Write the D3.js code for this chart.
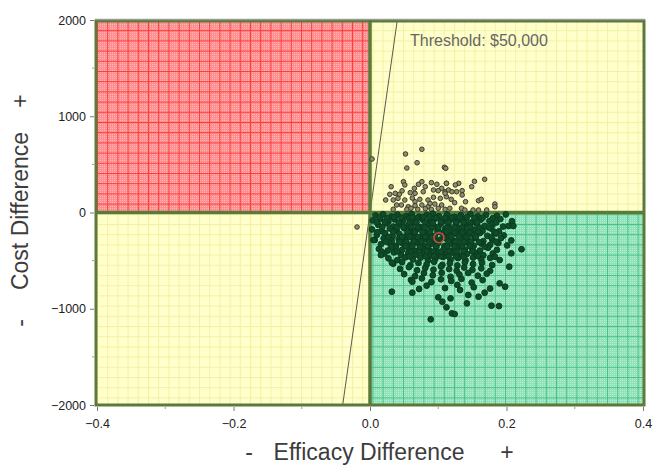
<!DOCTYPE html>
<html>
<head>
<meta charset="utf-8">
<script src="https://cdn.jsdelivr.net/npm/d3@7"></script>
<style>
  html, body { margin: 0; padding: 0; background: #fff; }
  svg { display: block; font-family: "Liberation Sans", Arial, sans-serif; }
</style>
</head>
<body>
<div id="chart"></div>
<script>
const xTicks = [-0.4, -0.2, 0, 0.2, 0.4];
const yTicks = [-2000, -1000, 0, 1000, 2000];
const threshold = 50000;
const meanPoint = [0.101, -262];

// simulation results above zero cost (yellow quadrant)
const upperPoints = [
  [0.003, 556], [0.052, 608], [0.076, 657], [0.069, 517], [0.054, 462], [0.109, 470],
  [0.031, 268], [0.049, 320], [0.051, 286], [0.071, 293], [0.076, 320], [0.065, 251],
  [0.081, 268], [0.090, 310], [0.098, 293], [0.112, 303], [0.105, 251],
  [0.029, 189], [0.037, 199], [0.043, 189], [0.059, 206], [0.066, 199], [0.078, 216],
  [0.093, 234], [0.100, 227], [0.110, 216],
  [0.023, 130], [0.034, 130], [0.041, 147], [0.051, 130], [0.066, 112], [0.073, 137],
  [0.085, 130], [0.093, 158], [0.103, 147], [0.112, 164],
  [0.039, 78], [0.046, 78], [0.056, 60], [0.066, 71], [0.076, 78], [0.085, 60],
  [0.095, 88], [0.105, 78],
  [0.034, 33], [0.054, 33], [0.060, 44], [0.070, 33], [0.081, 40], [0.090, 33],
  [0.100, 44], [0.110, 33],
  [0.111, 459], [0.130, 303], [0.125, 286], [0.153, 324], [0.149, 268], [0.168, 345],
  [0.112, 303], [0.115, 234], [0.120, 216], [0.127, 216], [0.135, 227], [0.135, 182],
  [0.119, 137], [0.124, 102], [0.140, 112], [0.159, 123], [0.163, 137], [0.183, 88],
  [0.183, 60], [0.117, 44], [0.134, 44], [0.139, 26], [0.151, 26], [0.159, 26],
  [0.171, 26], [0.110, 199], [0.088, 95], [0.062, 150], [0.047, 225]
];

// simulation results below zero cost
const lowerPoints = [
  [0.008, -30], [0.019, -18], [0.031, -42], [0.040, -22], [0.053, -36], [0.061, -15],
  [0.072, -44], [0.083, -25], [0.092, -12], [0.101, -38], [0.113, -20], [0.124, -46],
  [0.133, -28], [0.147, -16], [0.158, -40], [0.170, -24], [0.186, -34], [0.199, -20],
  [0.004, -82], [0.015, -66], [0.027, -95], [0.036, -72], [0.048, -88], [0.057, -60],
  [0.067, -98], [0.077, -74], [0.088, -86], [0.096, -62], [0.107, -92], [0.119, -70],
  [0.129, -84], [0.139, -64], [0.151, -96], [0.162, -76], [0.175, -88], [0.191, -68],
  [0.208, -90],
  [0.012, -128], [0.024, -112], [0.034, -146], [0.045, -120], [0.055, -138], [0.064, -110],
  [0.074, -150], [0.085, -124], [0.094, -142], [0.104, -115], [0.115, -136], [0.126, -118],
  [0.137, -148], [0.145, -126], [0.156, -112], [0.168, -140], [0.180, -120], [0.195, -146],
  [0.003, -176], [0.017, -192], [0.029, -166], [0.039, -184], [0.050, -162], [0.060, -198],
  [0.069, -172], [0.080, -188], [0.090, -160], [0.099, -194], [0.110, -170], [0.121, -186],
  [0.131, -164], [0.142, -198], [0.153, -178], [0.165, -190], [0.178, -168], [0.189, -196],
  [0.203, -140],
  [0.010, -232], [0.022, -214], [0.033, -246], [0.043, -222], [0.054, -240], [0.065, -210],
  [0.076, -250], [0.086, -226], [0.095, -244], [0.106, -212], [0.116, -236], [0.127, -220],
  [0.138, -248], [0.149, -228], [0.161, -214], [0.172, -242], [0.185, -216], [0.196, -238],
  [0.007, -286], [0.020, -268], [0.032, -298], [0.042, -274], [0.052, -290], [0.062, -262],
  [0.073, -300], [0.082, -278], [0.093, -292], [0.103, -282], [0.112, -270], [0.123, -296],
  [0.133, -276], [0.144, -288], [0.154, -264], [0.166, -298], [0.179, -280], [0.192, -266],
  [0.207, -290],
  [0.016, -330], [0.028, -314], [0.038, -348], [0.048, -322], [0.058, -340], [0.068, -312],
  [0.079, -344], [0.089, -326], [0.100, -316], [0.109, -348], [0.120, -324], [0.130, -338],
  [0.141, -310], [0.152, -346], [0.163, -322], [0.176, -336], [0.188, -318], [0.201, -342],
  [0.013, -378], [0.026, -396], [0.037, -364], [0.047, -388], [0.057, -370], [0.066, -400],
  [0.077, -376], [0.087, -392], [0.097, -362], [0.108, -384], [0.118, -398], [0.128, -368],
  [0.139, -390], [0.150, -374], [0.161, -396], [0.173, -366], [0.186, -388],
  [0.021, -428], [0.035, -414], [0.046, -446], [0.056, -420], [0.067, -438], [0.078, -412],
  [0.088, -450], [0.099, -424], [0.110, -440], [0.121, -416], [0.131, -448], [0.142, -430],
  [0.154, -418], [0.166, -444], [0.180, -426],
  [0.027, -476], [0.040, -494], [0.052, -466], [0.063, -488], [0.074, -470], [0.085, -498],
  [0.096, -478], [0.107, -462], [0.118, -492], [0.129, -474], [0.140, -496], [0.151, -468],
  [0.163, -486], [0.176, -472], [0.190, -494],
  [0.034, -532], [0.047, -516], [0.059, -548], [0.071, -524], [0.083, -540], [0.094, -512],
  [0.106, -544], [0.117, -528], [0.128, -550], [0.139, -518], [0.151, -536], [0.164, -522],
  [0.179, -546],
  [0.044, -586], [0.057, -568], [0.069, -600], [0.081, -576], [0.093, -594], [0.104, -562],
  [0.116, -588], [0.127, -604], [0.138, -572], [0.150, -596], [0.163, -580], [0.176, -606],
  [0.050, -640], [0.066, -662], [0.079, -630], [0.092, -652], [0.105, -626], [0.118, -668],
  [0.131, -644], [0.144, -628], [0.158, -656], [0.171, -636],
  [0.060, -700], [0.076, -684], [0.090, -722], [0.104, -694], [0.119, -712], [0.134, -690],
  [0.149, -728], [0.165, -702],
  [0.083, -760], [0.110, -785], [0.128, -752], [0.152, -776], [0.176, -790], [0.072, -795],
  [0.046, -52], [0.069, -58], [0.087, -48], [0.110, -55], [0.131, -50], [0.153, -56],
  [0.058, -104], [0.081, -102], [0.104, -100], [0.126, -104], [0.147, -106],
  [0.049, -154], [0.070, -156], [0.091, -152], [0.113, -158], [0.135, -154], [0.160, -158],
  [0.055, -204], [0.077, -206], [0.101, -202], [0.124, -206], [0.146, -204],
  [0.047, -254], [0.070, -256], [0.090, -258], [0.119, -254], [0.141, -258],
  [0.053, -306], [0.075, -304], [0.097, -302], [0.125, -306], [0.148, -302],
  [0.062, -354], [0.085, -356], [0.113, -352], [0.135, -356],
  [0.072, -404], [0.093, -406], [0.116, -404], [0.137, -402],
  [0.082, -456], [0.104, -454], [0.126, -458],
  [0.014, -50], [0.025, -55], [0.035, -48], [0.062, -52], [0.078, -50], [0.097, -54],
  [0.120, -52], [0.142, -48], [0.165, -54], [0.180, -58],
  [0.010, -102], [0.022, -100], [0.042, -106], [0.068, -104], [0.092, -108], [0.115, -102],
  [0.137, -100], [0.157, -104], [0.185, -104],
  [0.018, -150], [0.039, -152], [0.060, -150], [0.080, -154], [0.100, -156], [0.124, -152],
  [0.147, -150], [0.174, -156],
  [0.011, -204], [0.034, -200], [0.066, -206], [0.088, -202], [0.112, -200], [0.135, -204],
  [0.158, -200], [0.182, -204],
  [0.027, -254], [0.058, -252], [0.081, -254], [0.108, -256], [0.130, -250], [0.155, -254],
  [0.178, -258],
  [0.023, -302], [0.043, -306], [0.064, -300], [0.087, -306], [0.115, -302], [0.138, -304],
  [0.160, -308], [0.185, -304],
  [0.031, -356], [0.052, -350], [0.073, -358], [0.097, -350], [0.124, -354], [0.146, -350],
  [0.168, -354],
  [0.040, -404], [0.060, -408], [0.083, -402], [0.104, -408], [0.127, -406], [0.150, -404],
  [0.058, -456], [0.094, -452], [0.115, -456], [0.137, -460], [0.158, -452],
  // scattered tail
  [0.005, -286], [0.017, -407], [0.016, -442], [0.032, -521], [0.032, -823], [0.062, -833],
  [0.062, -719], [0.089, -1110], [0.100, -881], [0.106, -927], [0.118, -892], [0.112, -985],
  [0.120, -1048], [0.124, -1055], [0.132, -805], [0.144, -857], [0.142, -944], [0.159, -875],
  [0.168, -833], [0.178, -968], [0.189, -972], [0.198, -771], [0.190, -736], [0.204, -563],
  [0.222, -382], [0.210, -140], [0.207, -424], [0.185, -216], [0.183, -459],
  [-0.019, -151]
];

const quadrants = [
  { key: 'red', x0: -0.4, x1: 0, y0: 0, y1: 2000 },
  { key: 'yellow', x0: 0, x1: 0.4, y0: 0, y1: 2000 },
  { key: 'yellow', x0: -0.4, x1: 0, y0: -2000, y1: 0 },
  { key: 'green', x0: 0, x1: 0.4, y0: -2000, y1: 0 }
];

const palette = {
  red: { base: '#ff8f8f', line: '#ff3a3a' },
  yellow: { base: '#ffffc6', line: '#f3f0a6' },
  green: { base: '#92e2b9', line: '#45c285' }
};

const width = 657;
const height = 473;
const plot = { left: 97, right: 643, top: 20, bottom: 405 };
const border = '#5b7a3a';
const font = '"Liberation Sans", Arial, sans-serif';

const svg = d3.select('#chart')
  .append('svg')
    .attr('width', width)
    .attr('height', height)
    .attr('viewBox', `0 0 ${width} ${height}`);

const x = d3.scaleLinear().domain([-0.4, 0.4]).range([plot.left, plot.right]);
const y = d3.scaleLinear().domain([-2000, 2000]).range([plot.bottom, plot.top]);

// patterns: fine checker + 10px grid
const defs = svg.append('defs');
defs.append('pattern')
  .attr('id', 'checker')
  .attr('patternUnits', 'userSpaceOnUse')
  .attr('width', 2).attr('height', 2)
  .append('rect')
    .attr('width', 1).attr('height', 1)
    .attr('fill', '#fff').attr('fill-opacity', 0.35);

Object.keys(palette).forEach(k => {
  const p = defs.append('pattern')
    .attr('id', `grid-${k}`)
    .attr('patternUnits', 'userSpaceOnUse')
    .attr('x', plot.left).attr('y', plot.top)
    .attr('width', 10.2).attr('height', 10.2);
  p.append('rect').attr('width', 10.2).attr('height', 1).attr('fill', palette[k].line);
  p.append('rect').attr('width', 1).attr('height', 10.2).attr('fill', palette[k].line);
});

// quadrants
const quad = svg.append('g').attr('class', 'quadrants')
  .selectAll('g')
  .data(quadrants)
  .join('g');

['base', 'checker', 'grid'].forEach(layer => {
  quad.append('rect')
    .attr('x', d => x(d.x0))
    .attr('y', d => y(d.y1))
    .attr('width', d => x(d.x1) - x(d.x0))
    .attr('height', d => y(d.y0) - y(d.y1))
    .attr('fill', d => {
      if (layer === 'base') return palette[d.key].base;
      if (layer === 'checker') return 'url(#checker)';
      return `url(#grid-${d.key})`;
    });
});

// threshold line
svg.append('line')
  .attr('x1', x(-2000 / threshold)).attr('y1', y(-2000))
  .attr('x2', x(2000 / threshold)).attr('y2', y(2000))
  .attr('stroke', '#5a5a50')
  .attr('stroke-width', 1);

svg.append('text')
  .attr('x', 410).attr('y', 46)
  .attr('font-size', 16)
  .attr('fill', '#666')
  .text('Threshold: $50,000');

// borders
svg.append('rect')
  .attr('x', plot.left - 1).attr('y', plot.top + 1)
  .attr('width', plot.right - plot.left + 2).attr('height', plot.bottom - plot.top - 1)
  .attr('fill', 'none')
  .attr('stroke', border)
  .attr('stroke-width', 3);
svg.append('line')
  .attr('x1', plot.left - 2).attr('x2', plot.right + 2)
  .attr('y1', plot.top - 0.5).attr('y2', plot.top - 0.5)
  .attr('stroke', '#9a9a9a').attr('stroke-width', 1.5);
svg.append('line')
  .attr('x1', x(0)).attr('x2', x(0))
  .attr('y1', plot.top).attr('y2', plot.bottom)
  .attr('stroke', border).attr('stroke-width', 3.5);
svg.append('line')
  .attr('x1', plot.left).attr('x2', plot.right)
  .attr('y1', y(0)).attr('y2', y(0))
  .attr('stroke', border).attr('stroke-width', 3.5);

// axes
const axisY = d3.axisLeft(y).tickValues(yTicks).tickSize(4).tickPadding(4)
  .tickFormat(d3.format('d'));
const axisX = d3.axisBottom(x).tickValues(xTicks).tickSize(4).tickPadding(8)
  .tickFormat(d3.format('.1f'));

const gy = svg.append('g')
  .attr('transform', `translate(${plot.left - 3},0)`)
  .call(axisY);
const gx = svg.append('g')
  .attr('transform', `translate(0,${plot.bottom + 2})`)
  .call(axisX);

[gx, gy].forEach(g => {
  g.select('.domain').remove();
  g.selectAll('.tick line').attr('stroke', '#777');
  g.selectAll('.tick text')
    .attr('fill', '#222')
    .style('font-size', '12.5px')
    .style('font-family', font);
});

// minor ticks
svg.append('g')
  .selectAll('line')
  .data(d3.range(-1500, 2000, 1000))
  .join('line')
    .attr('x1', plot.left - 5).attr('x2', plot.left - 3)
    .attr('y1', d => y(d)).attr('y2', d => y(d))
    .attr('stroke', '#999');
svg.append('g')
  .selectAll('line')
  .data([-0.3, -0.1, 0.1, 0.3])
  .join('line')
    .attr('x1', d => x(d)).attr('x2', d => x(d))
    .attr('y1', plot.bottom + 2).attr('y2', plot.bottom + 4)
    .attr('stroke', '#999');

// simulation points
const inGreen = d => d[1] < 0 && d[0] > 0;
const allPoints = upperPoints.concat(lowerPoints);
svg.append('g')
  .attr('class', 'points')
  .selectAll('circle')
  .data(allPoints)
  .join('circle')
    .attr('cx', d => x(d[0]))
    .attr('cy', d => y(d[1]))
    .attr('r', d => (inGreen(d) ? 2.9 : 2.3))
    .attr('fill', d => (inGreen(d) ? '#0f4b29' : '#8f8f70'))
    .attr('stroke', d => (inGreen(d) ? '#0b3b1f' : '#3a3a2c'))
    .attr('stroke-width', 1);

// mean marker
svg.append('circle')
  .attr('cx', x(meanPoint[0]))
  .attr('cy', y(meanPoint[1]))
  .attr('r', 5)
  .attr('fill', 'none')
  .attr('stroke', '#d24a3c')
  .attr('stroke-width', 1.6);

// axis titles
const titleStyle = sel => sel
  .attr('fill', '#3c3c3c')
  .attr('font-size', 23)
  .attr('font-family', font);

svg.append('g')
  .attr('transform', 'translate(28,213) rotate(-90)')
  .call(g => {
    g.append('text').attr('x', -110).attr('text-anchor', 'middle').call(titleStyle).text('-');
    g.append('text').attr('x', 2).attr('text-anchor', 'middle').call(titleStyle).text('Cost Difference');
    g.append('text').attr('x', 112).attr('text-anchor', 'middle').call(titleStyle).text('+');
  });

svg.append('g')
  .attr('transform', 'translate(369,460)')
  .call(g => {
    g.append('text').attr('x', -120).attr('text-anchor', 'middle').call(titleStyle).text('-');
    g.append('text').attr('x', 0).attr('text-anchor', 'middle').call(titleStyle).text('Efficacy Difference');
    g.append('text').attr('x', 138).attr('text-anchor', 'middle').call(titleStyle).text('+');
  });
</script>
</body>
</html>
